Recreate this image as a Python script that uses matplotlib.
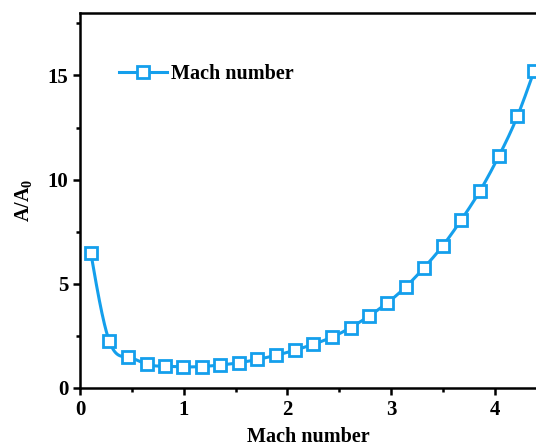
import numpy as np
import matplotlib
matplotlib.use("Agg")
from matplotlib import pyplot as plt

# data
mach = [0.10, 0.28, 0.46, 0.64, 0.82, 0.99, 1.17, 1.35, 1.53, 1.71, 1.89, 2.07, 2.25,
        2.43, 2.61, 2.79, 2.96, 3.14, 3.32, 3.50, 3.68, 3.86, 4.04, 4.22, 4.38]
area_ratio = [6.50, 2.24, 1.48, 1.14, 1.04, 1.01, 1.03, 1.10, 1.21, 1.37, 1.57, 1.81, 2.10,
              2.44, 2.90, 3.46, 4.07, 4.84, 5.78, 6.83, 8.08, 9.47, 11.12, 13.04, 15.20]
xticks = [0, 1, 2, 3, 4]
yticks = [0, 5, 10, 15]

color = "#149FEC"

plt.rcParams["font.family"] = ["Liberation Serif", "DejaVu Serif"]
plt.rcParams["font.weight"] = "bold"
plt.rcParams["mathtext.fontset"] = "custom"
plt.rcParams["mathtext.rm"] = "Liberation Serif:bold"
plt.rcParams["mathtext.it"] = "Liberation Serif:bold"
plt.rcParams["mathtext.bf"] = "Liberation Serif:bold"


def spline(x, y, n=30):
    # natural cubic spline through the points, only for drawing the smooth line
    x = np.asarray(x, float)
    y = np.asarray(y, float)
    k = len(x)
    h = np.diff(x)
    A = np.zeros((k, k))
    b = np.zeros(k)
    A[0, 0] = A[-1, -1] = 1
    for i in range(1, k - 1):
        A[i, i - 1] = h[i - 1]
        A[i, i] = 2 * (h[i - 1] + h[i])
        A[i, i + 1] = h[i]
        b[i] = 6 * ((y[i + 1] - y[i]) / h[i] - (y[i] - y[i - 1]) / h[i - 1])
    m = np.linalg.solve(A, b)
    xs, ys = [], []
    for i in range(k - 1):
        t = np.linspace(x[i], x[i + 1], n, endpoint=False)
        a = x[i + 1] - t
        c = t - x[i]
        s = (m[i] * a ** 3 + m[i + 1] * c ** 3) / (6 * h[i]) \
            + (y[i] / h[i] - m[i] * h[i] / 6) * a + (y[i + 1] / h[i] - m[i + 1] * h[i] / 6) * c
        xs.extend(t)
        ys.extend(s)
    xs.append(x[-1])
    ys.append(y[-1])
    return xs, ys


fig = plt.figure(figsize=(5.36, 4.48), dpi=100)
ax = fig.add_axes([0.150, 0.134, 0.85, 0.837])

sx, sy = spline(mach, area_ratio)
ax.plot(sx, sy, color=color, lw=2.2)
ax.plot(mach, area_ratio, ls="none", marker="s", ms=8, mfc="white", mec=color, mew=2)
# legend handle
ax.plot([], [], color=color, lw=2.2, marker="s", ms=8, mfc="white", mec=color, mew=2,
        label="Mach number")

ax.set_xlim(0, 4.40)
ax.set_ylim(0, 18)
ax.set_xticks(xticks)
ax.set_yticks(yticks)
ax.set_xticks([0.5, 1.5, 2.5, 3.5], minor=True)
ax.set_yticks([2.5, 7.5, 12.5, 17.5], minor=True)
ax.tick_params(which="both", direction="out", width=1.8, labelsize=15)
ax.tick_params(which="major", length=5)
ax.tick_params(which="minor", length=3)
for lab in ax.get_xticklabels() + ax.get_yticklabels():
    lab.set_fontweight("bold")

for s in ["left", "bottom", "top"]:
    ax.spines[s].set_linewidth(1.8)
ax.spines["right"].set_visible(False)

ax.set_xlabel("Mach number", fontsize=14.5, fontweight="bold", labelpad=5)
ax.set_ylabel("A/A$_0$", fontsize=14.5, fontweight="bold", labelpad=10)

ax.legend(loc="upper left", bbox_to_anchor=(0.085, 0.863), frameon=False, fontsize=14.5,
          handlelength=2.4, handletextpad=0.2, borderpad=0, borderaxespad=0)

plt.savefig("out.png", dpi=100)
